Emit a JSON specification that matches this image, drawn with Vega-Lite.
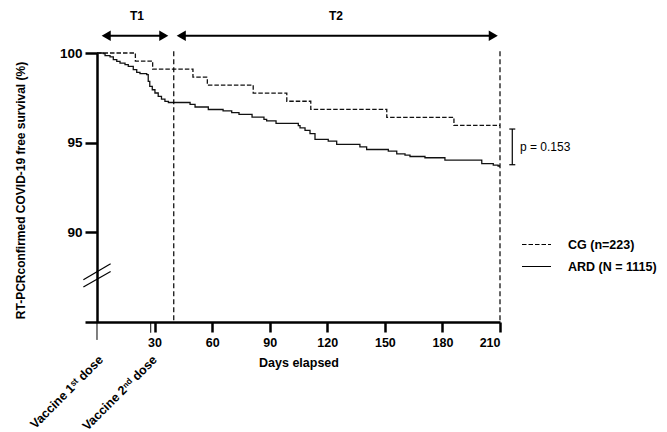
{
  "$schema": "https://vega.github.io/schema/vega-lite/v6.json",
  "autosize": "none",
  "width": 415,
  "height": 269,
  "padding": {"left": 85, "top": 53, "right": 167, "bottom": 110},
  "background": "white",
  "config": {
    "font": "Liberation Sans",
    "view": {"stroke": null},
    "axis": {"grid": false, "domainColor": "#000", "tickColor": "#000", "labelColor": "#000", "titleColor": "#000"}
  },
  "datasets": {
    "curves": [
      {"group": "CG (n=223)", "day": 0, "surv": 100},
      {"group": "CG (n=223)", "day": 20, "surv": 99.55},
      {"group": "CG (n=223)", "day": 29, "surv": 99.1},
      {"group": "CG (n=223)", "day": 50, "surv": 98.65},
      {"group": "CG (n=223)", "day": 57.5, "surv": 98.21},
      {"group": "CG (n=223)", "day": 81.4, "surv": 97.76},
      {"group": "CG (n=223)", "day": 98.9, "surv": 97.31},
      {"group": "CG (n=223)", "day": 111.4, "surv": 96.86},
      {"group": "CG (n=223)", "day": 151, "surv": 96.41},
      {"group": "CG (n=223)", "day": 186, "surv": 95.96},
      {"group": "CG (n=223)", "day": 210, "surv": 95.96},
      {"group": "ARD (N = 1115)", "day": 0, "surv": 100},
      {"group": "ARD (N = 1115)", "day": 3.3, "surv": 99.96},
      {"group": "ARD (N = 1115)", "day": 4.2, "surv": 99.85},
      {"group": "ARD (N = 1115)", "day": 6.8, "surv": 99.78},
      {"group": "ARD (N = 1115)", "day": 8.5, "surv": 99.63},
      {"group": "ARD (N = 1115)", "day": 10.3, "surv": 99.53},
      {"group": "ARD (N = 1115)", "day": 12, "surv": 99.44},
      {"group": "ARD (N = 1115)", "day": 14.6, "surv": 99.35},
      {"group": "ARD (N = 1115)", "day": 16.3, "surv": 99.25},
      {"group": "ARD (N = 1115)", "day": 18.9, "surv": 99.07},
      {"group": "ARD (N = 1115)", "day": 20.7, "surv": 98.92},
      {"group": "ARD (N = 1115)", "day": 22.4, "surv": 98.85},
      {"group": "ARD (N = 1115)", "day": 25.9, "surv": 98.79},
      {"group": "ARD (N = 1115)", "day": 26.7, "surv": 98.42},
      {"group": "ARD (N = 1115)", "day": 27.5, "surv": 98.14},
      {"group": "ARD (N = 1115)", "day": 28.8, "surv": 97.95},
      {"group": "ARD (N = 1115)", "day": 30.2, "surv": 97.77},
      {"group": "ARD (N = 1115)", "day": 31.9, "surv": 97.58},
      {"group": "ARD (N = 1115)", "day": 33.6, "surv": 97.43},
      {"group": "ARD (N = 1115)", "day": 35.4, "surv": 97.3},
      {"group": "ARD (N = 1115)", "day": 37.2, "surv": 97.24},
      {"group": "ARD (N = 1115)", "day": 48.5, "surv": 97.13},
      {"group": "ARD (N = 1115)", "day": 51.1, "surv": 96.99},
      {"group": "ARD (N = 1115)", "day": 58, "surv": 96.85},
      {"group": "ARD (N = 1115)", "day": 65.7, "surv": 96.77},
      {"group": "ARD (N = 1115)", "day": 70.2, "surv": 96.67},
      {"group": "ARD (N = 1115)", "day": 74, "surv": 96.58},
      {"group": "ARD (N = 1115)", "day": 80.8, "surv": 96.42},
      {"group": "ARD (N = 1115)", "day": 87, "surv": 96.3},
      {"group": "ARD (N = 1115)", "day": 88.4, "surv": 96.21},
      {"group": "ARD (N = 1115)", "day": 93.3, "surv": 96.08},
      {"group": "ARD (N = 1115)", "day": 104.9, "surv": 95.95},
      {"group": "ARD (N = 1115)", "day": 105.8, "surv": 95.83},
      {"group": "ARD (N = 1115)", "day": 108.4, "surv": 95.68},
      {"group": "ARD (N = 1115)", "day": 111, "surv": 95.5},
      {"group": "ARD (N = 1115)", "day": 113.6, "surv": 95.18},
      {"group": "ARD (N = 1115)", "day": 120.5, "surv": 95.09},
      {"group": "ARD (N = 1115)", "day": 124.9, "surv": 94.9},
      {"group": "ARD (N = 1115)", "day": 137, "surv": 94.76},
      {"group": "ARD (N = 1115)", "day": 140.5, "surv": 94.62},
      {"group": "ARD (N = 1115)", "day": 151.8, "surv": 94.53},
      {"group": "ARD (N = 1115)", "day": 156.2, "surv": 94.38},
      {"group": "ARD (N = 1115)", "day": 160.5, "surv": 94.31},
      {"group": "ARD (N = 1115)", "day": 163.1, "surv": 94.23},
      {"group": "ARD (N = 1115)", "day": 170.9, "surv": 94.16},
      {"group": "ARD (N = 1115)", "day": 181.3, "surv": 94.03},
      {"group": "ARD (N = 1115)", "day": 200.5, "surv": 93.83},
      {"group": "ARD (N = 1115)", "day": 206.5, "surv": 93.75},
      {"group": "ARD (N = 1115)", "day": 209, "surv": 93.7},
      {"group": "ARD (N = 1115)", "day": 210, "surv": 93.7}
    ],
    "cutoffs": [
      {"day": 40, "top": 100.1, "bottom": 85},
      {"day": 210, "top": 100.1, "bottom": 85}
    ],
    "periods": [
      {"period": "T1", "from": 4.8, "to": 34.8, "mid": 20.8, "level": 100.96, "labelLevel": 102.04},
      {"period": "T2", "from": 43.9, "to": 206.5, "mid": 124.5, "level": 100.96, "labelLevel": 102.04}
    ],
    "doses": [
      {"dose": "Vaccine 1ˢᵗ dose", "day": 0, "base": 85, "tickEnd": 84.0, "labelDay": 2.1, "labelLevel": 83.0},
      {"dose": "Vaccine 2ⁿᵈ dose", "day": 28, "base": 85, "tickEnd": 84.4, "labelDay": 30.2, "labelLevel": 83.0}
    ],
    "breaks": [
      {"x1": -7.1, "y1": 87.36, "x2": 7.1, "y2": 88.25},
      {"x1": -7.1, "y1": 86.95, "x2": 7.1, "y2": 87.82}
    ],
    "pvalue": [
      {"x": 216.4, "lo": 93.77, "hi": 95.76, "label": "p = 0.153", "labelX": 220.4, "labelY": 94.77}
    ]
  },
  "layer": [
    {
      "data": {"name": "curves"},
      "mark": {"type": "line", "interpolate": "step-after", "strokeWidth": 1.3, "color": "#111"},
      "encoding": {
        "x": {
          "field": "day", "type": "quantitative",
          "scale": {"domain": [-6.25, 210], "nice": false, "zero": false},
          "axis": {
            "values": [30, 60, 90, 120, 150, 180, 210],
            "title": "Days elapsed",
            "titleFont": "Liberation Sans", "titleFontSize": 12.5, "titleFontWeight": "bold",
            "titleX": 213.5, "titleY": 40, "titleBaseline": "middle",
            "labelFont": "Liberation Sans", "labelFontSize": 12.5, "labelFontWeight": "bold",
            "labelPadding": 4, "tickSize": 10, "tickWidth": 2.5, "domainWidth": 2.5, "zindex": 1
          }
        },
        "y": {
          "field": "surv", "type": "quantitative",
          "scale": {"domain": [85, 100], "nice": false, "zero": false},
          "axis": {
            "values": [90, 95, 100],
            "offset": -12,
            "title": "RT-PCRconfirmed COVID-19 free survival (%)",
            "titleFont": "Liberation Sans", "titleFontSize": 12, "titleFontWeight": "bold",
            "titleX": -77, "titleY": 137, "titleBaseline": "middle", "titleAngle": -90,
            "labelFont": "Liberation Sans", "labelFontSize": 13.5, "labelFontWeight": "bold",
            "labelPadding": 3, "tickSize": 12, "tickWidth": 2.5, "domainWidth": 2.5, "zindex": 1
          }
        },
        "strokeDash": {
          "field": "group", "type": "nominal",
          "scale": {"domain": ["CG (n=223)", "ARD (N = 1115)"], "range": [[4.5, 2], [1, 0]]},
          "legend": {
            "title": null, "orient": "none", "legendX": 436, "legendY": 176,
            "padding": 0, "symbolType": "stroke", "symbolSize": 841, "symbolStrokeWidth": 1.2,
            "symbolStrokeColor": "#000", "labelOffset": 16,
            "labelFont": "Liberation Sans", "labelFontSize": 12.5, "labelFontWeight": "bold", "labelColor": "#000",
            "rowPadding": 0
          }
        }
      }
    },
    {
      "data": {"name": "cutoffs"},
      "mark": {"type": "rule", "strokeDash": [5, 3], "strokeWidth": 1.2, "color": "#000"},
      "encoding": {
        "x": {"field": "day", "type": "quantitative", "scale": {"domain": [-6.25, 210], "nice": false, "zero": false}},
        "y": {"field": "top", "type": "quantitative", "scale": {"domain": [85, 100], "nice": false, "zero": false}},
        "y2": {"field": "bottom"}
      }
    },
    {
      "data": {"name": "periods"},
      "mark": {"type": "rule", "strokeWidth": 2, "color": "#000"},
      "encoding": {
        "x": {"field": "from", "type": "quantitative", "scale": {"domain": [-6.25, 210], "nice": false, "zero": false}},
        "x2": {"field": "to"},
        "y": {"field": "level", "type": "quantitative", "scale": {"domain": [85, 100], "nice": false, "zero": false}}
      }
    },
    {
      "data": {"name": "periods"},
      "mark": {"type": "point", "shape": "triangle-left", "filled": true, "size": 110, "color": "#000", "opacity": 1},
      "encoding": {
        "x": {"field": "from", "type": "quantitative", "scale": {"domain": [-6.25, 210], "nice": false, "zero": false}},
        "y": {"field": "level", "type": "quantitative", "scale": {"domain": [85, 100], "nice": false, "zero": false}}
      }
    },
    {
      "data": {"name": "periods"},
      "mark": {"type": "point", "shape": "triangle-right", "filled": true, "size": 110, "color": "#000", "opacity": 1},
      "encoding": {
        "x": {"field": "to", "type": "quantitative", "scale": {"domain": [-6.25, 210], "nice": false, "zero": false}},
        "y": {"field": "level", "type": "quantitative", "scale": {"domain": [85, 100], "nice": false, "zero": false}}
      }
    },
    {
      "data": {"name": "periods"},
      "mark": {"type": "text", "font": "Liberation Sans", "fontSize": 12, "fontWeight": "bold", "color": "#000", "baseline": "middle", "align": "center"},
      "encoding": {
        "x": {"field": "mid", "type": "quantitative", "scale": {"domain": [-6.25, 210], "nice": false, "zero": false}},
        "y": {"field": "labelLevel", "type": "quantitative", "scale": {"domain": [85, 100], "nice": false, "zero": false}},
        "text": {"field": "period"}
      }
    },
    {
      "data": {"name": "breaks"},
      "mark": {"type": "rule", "strokeWidth": 1.2, "color": "#000"},
      "encoding": {
        "x": {"field": "x1", "type": "quantitative", "scale": {"domain": [-6.25, 210], "nice": false, "zero": false}},
        "x2": {"field": "x2"},
        "y": {"field": "y1", "type": "quantitative", "scale": {"domain": [85, 100], "nice": false, "zero": false}},
        "y2": {"field": "y2"}
      }
    },
    {
      "data": {"name": "doses"},
      "mark": {"type": "rule", "strokeWidth": 1, "color": "#000"},
      "encoding": {
        "x": {"field": "day", "type": "quantitative", "scale": {"domain": [-6.25, 210], "nice": false, "zero": false}},
        "y": {"field": "base", "type": "quantitative", "scale": {"domain": [85, 100], "nice": false, "zero": false}},
        "y2": {"field": "tickEnd"}
      }
    },
    {
      "data": {"name": "doses"},
      "mark": {"type": "text", "font": "Liberation Sans", "fontSize": 12.5, "fontWeight": "bold", "color": "#000", "angle": -45, "align": "right", "baseline": "middle"},
      "encoding": {
        "x": {"field": "labelDay", "type": "quantitative", "scale": {"domain": [-6.25, 210], "nice": false, "zero": false}},
        "y": {"field": "labelLevel", "type": "quantitative", "scale": {"domain": [85, 100], "nice": false, "zero": false}},
        "text": {"field": "dose"}
      }
    },
    {
      "data": {"name": "pvalue"},
      "mark": {"type": "rule", "strokeWidth": 1.2, "color": "#000"},
      "encoding": {
        "x": {"field": "x", "type": "quantitative", "scale": {"domain": [-6.25, 210], "nice": false, "zero": false}},
        "y": {"field": "lo", "type": "quantitative", "scale": {"domain": [85, 100], "nice": false, "zero": false}},
        "y2": {"field": "hi"}
      }
    },
    {
      "data": {"name": "pvalue"},
      "mark": {"type": "tick", "orient": "horizontal", "size": 6, "thickness": 1.2, "color": "#000", "opacity": 1},
      "encoding": {
        "x": {"field": "x", "type": "quantitative", "scale": {"domain": [-6.25, 210], "nice": false, "zero": false}},
        "y": {"field": "lo", "type": "quantitative", "scale": {"domain": [85, 100], "nice": false, "zero": false}}
      }
    },
    {
      "data": {"name": "pvalue"},
      "mark": {"type": "tick", "orient": "horizontal", "size": 6, "thickness": 1.2, "color": "#000", "opacity": 1},
      "encoding": {
        "x": {"field": "x", "type": "quantitative", "scale": {"domain": [-6.25, 210], "nice": false, "zero": false}},
        "y": {"field": "hi", "type": "quantitative", "scale": {"domain": [85, 100], "nice": false, "zero": false}}
      }
    },
    {
      "data": {"name": "pvalue"},
      "mark": {"type": "text", "font": "Liberation Sans", "fontSize": 12, "color": "#000", "align": "left", "baseline": "middle"},
      "encoding": {
        "x": {"field": "labelX", "type": "quantitative", "scale": {"domain": [-6.25, 210], "nice": false, "zero": false}},
        "y": {"field": "labelY", "type": "quantitative", "scale": {"domain": [85, 100], "nice": false, "zero": false}},
        "text": {"field": "label"}
      }
    }
  ]
}
